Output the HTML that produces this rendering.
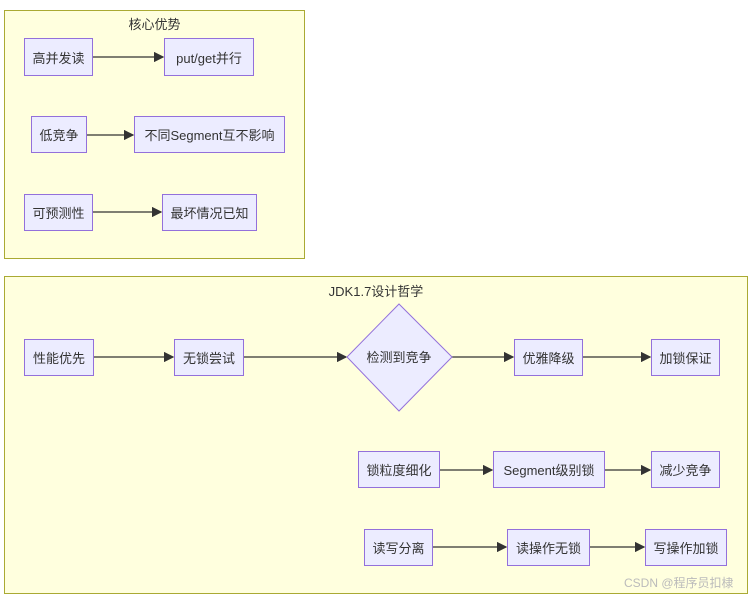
<!DOCTYPE html>
<html><head><meta charset="utf-8"><style>
body{margin:0;width:749px;height:595px;background:#fff;position:relative;overflow:hidden;font-family:"Liberation Sans","Noto Sans CJK SC",sans-serif;}
.c{position:absolute;background:#ffffde;border:1px solid #aaaa33;box-sizing:border-box;}
.t{position:absolute;font-size:13px;color:#333;text-align:center;}
.n{position:absolute;background:#ececff;border:1px solid #9370db;box-sizing:border-box;display:flex;align-items:center;justify-content:center;font-size:13px;color:#333;white-space:nowrap;}
svg{position:absolute;left:0;top:0;}
</style></head><body>
<div class="c" style="left:4px;top:10px;width:301px;height:249px"></div>
<div class="t" style="left:4px;top:14px;width:301px">核心优势</div>
<div class="c" style="left:4px;top:276px;width:744px;height:318px"></div>
<div class="t" style="left:4px;top:281px;width:744px">JDK1.7设计哲学</div>
<svg width="749" height="595">
<defs><marker id="a" markerWidth="8" markerHeight="8" refX="7" refY="4" orient="auto"><path d="M0,0L8,4L0,8z" fill="#333"/></marker></defs>
<g stroke="#333" stroke-width="1.3" fill="none" marker-end="url(#a)">
<line x1="93" y1="57" x2="163" y2="57"/>
<line x1="87" y1="135" x2="133" y2="135"/>
<line x1="93" y1="212" x2="161" y2="212"/>
<line x1="94" y1="357" x2="173" y2="357"/>
<line x1="244" y1="357" x2="346" y2="357"/>
<line x1="452" y1="357" x2="513" y2="357"/>
<line x1="583" y1="357" x2="650" y2="357"/>
<line x1="440" y1="470" x2="492" y2="470"/>
<line x1="605" y1="470" x2="650" y2="470"/>
<line x1="433" y1="547" x2="506" y2="547"/>
<line x1="590" y1="547" x2="644" y2="547"/>
</g>
<polygon points="399,304 452,357 399,411 347,357" fill="#ececff" stroke="#9370db" stroke-width="1"/>
<text x="399" y="362" font-size="13" fill="#333" text-anchor="middle" font-family="Liberation Sans,Noto Sans CJK SC,sans-serif">检测到竞争</text>
</svg>
<div class="n" style="left:24px;top:38px;width:69px;height:38px">高并发读</div>
<div class="n" style="left:164px;top:38px;width:90px;height:38px">put/get并行</div>
<div class="n" style="left:31px;top:116px;width:56px;height:37px">低竞争</div>
<div class="n" style="left:134px;top:116px;width:151px;height:37px">不同Segment互不影响</div>
<div class="n" style="left:24px;top:194px;width:69px;height:37px">可预测性</div>
<div class="n" style="left:162px;top:194px;width:95px;height:37px">最坏情况已知</div>
<div class="n" style="left:24px;top:339px;width:70px;height:37px">性能优先</div>
<div class="n" style="left:174px;top:339px;width:70px;height:37px">无锁尝试</div>
<div class="n" style="left:514px;top:339px;width:69px;height:37px">优雅降级</div>
<div class="n" style="left:651px;top:339px;width:69px;height:37px">加锁保证</div>
<div class="n" style="left:358px;top:451px;width:82px;height:37px">锁粒度细化</div>
<div class="n" style="left:493px;top:451px;width:112px;height:37px">Segment级别锁</div>
<div class="n" style="left:651px;top:451px;width:69px;height:37px">减少竞争</div>
<div class="n" style="left:364px;top:529px;width:69px;height:37px">读写分离</div>
<div class="n" style="left:507px;top:529px;width:83px;height:37px">读操作无锁</div>
<div class="n" style="left:645px;top:529px;width:82px;height:37px">写操作加锁</div>
<div style="position:absolute;left:624px;top:574px;font-size:12px;color:#bbb">CSDN @程序员扣棣</div>
</body></html>
